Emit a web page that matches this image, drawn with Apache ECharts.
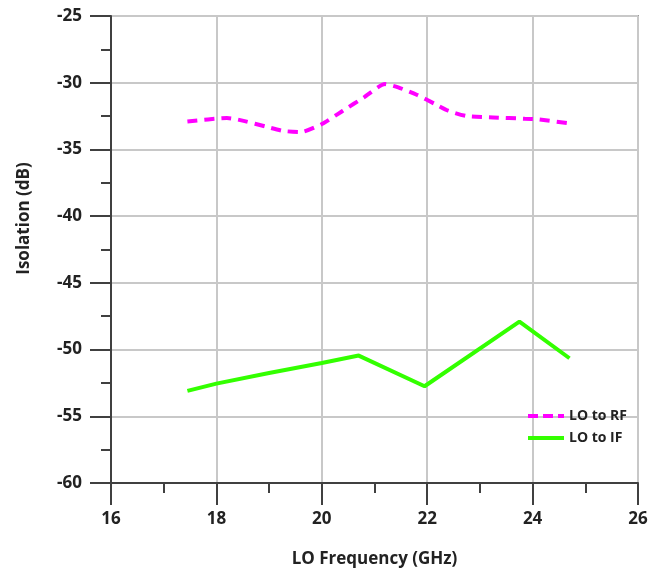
<!DOCTYPE html>
<html>
<head>
<meta charset="utf-8">
<script src="https://cdn.jsdelivr.net/npm/echarts@6/dist/echarts.min.js"></script>
<style>
  html, body {margin: 0; padding: 0; background: #fff;}
  #chart {width: 660px; height: 573px;}
</style>
</head>
<body>
<div id="chart"></div>
<script>
// LO to RF (magenta dashed)
const rfFreq = [17.45, 18.2, 19.25, 19.6, 20.0, 20.4, 20.8, 21.2, 21.45, 21.8, 22.15, 22.4, 22.75, 23.25, 23.85, 24.1, 24.7];
const rfIso = [-32.9, -32.65, -33.6, -33.7, -33.1, -32.1, -31.1, -30.1, -30.35, -30.9, -31.6, -32.1, -32.5, -32.6, -32.7, -32.75, -33.05];
// LO to IF (green)
const ifFreq = [17.45, 18.0, 19.0, 20.0, 20.7, 21.95, 23.75, 24.7];
const ifIso = [-53.1, -52.55, -51.75, -51.0, -50.45, -52.75, -47.9, -50.65];

const seriesNames = ['LO to RF', 'LO to IF'];
const fontFamily = '"Open Sans", "DejaVu Sans", sans-serif';
const axisColor = '#404040';

const pair = (xs, ys) => xs.map((x, i) => [x, ys[i]]);

// second axis only for the short (minor) ticks
const minorAxis = (min, max, interval) => ({
  type: 'value', min, max, interval,
  axisLine: {show: false},
  axisTick: {show: true, inside: false, length: 10, lineStyle: {color: axisColor, width: 2}},
  axisLabel: {show: false},
  splitLine: {show: false}
});

let myChart = echarts.init(document.getElementById('chart'));
myChart.setOption({
  animation: false,
  backgroundColor: '#fff',
  grid: {
    left: 111, right: 22, top: 16, bottom: 89,
    show: true,
    borderColor: '#505050',
    borderWidth: 1.5
  },
  legend: {
    orient: 'vertical',
    right: 28,
    top: 404,
    itemWidth: 36,
    itemHeight: 10,
    itemGap: 8,
    itemStyle: {opacity: 0},
    textStyle: {fontFamily, fontWeight: 'bold', fontSize: 14, color: '#222'},
    data: [
      {name: seriesNames[0], lineStyle: {width: 4, type: [10, 5]}},
      {name: seriesNames[1], lineStyle: {width: 4}}
    ]
  },
  xAxis: [{
    type: 'value',
    min: 16, max: 26, interval: 2,
    name: 'LO Frequency (GHz)',
    nameLocation: 'middle',
    nameGap: 68,
    nameTextStyle: {fontFamily, fontWeight: 'bold', fontSize: 17, color: '#222'},
    axisLine: {show: true, onZero: false, lineStyle: {color: axisColor, width: 2}},
    axisTick: {show: true, inside: false, length: 22, lineStyle: {color: axisColor, width: 2}},
    axisLabel: {margin: 28, fontFamily, fontWeight: 'bold', fontSize: 17, color: '#222'},
    splitLine: {show: true, lineStyle: {color: '#c8c8c8', width: 2}}
  }, Object.assign(minorAxis(16, 26, 1), {position: 'bottom'})],
  yAxis: [{
    type: 'value',
    min: -60, max: -25, interval: 5,
    name: 'Isolation (dB)',
    nameLocation: 'middle',
    nameGap: 78,
    nameTextStyle: {fontFamily, fontWeight: 'bold', fontSize: 17, color: '#222', padding: [0, 0, 0, 62]},
    axisLine: {show: true, onZero: false, lineStyle: {color: axisColor, width: 2}},
    axisTick: {show: true, inside: false, length: 21, lineStyle: {color: axisColor, width: 2}},
    axisLabel: {margin: 29, fontFamily, fontWeight: 'bold', fontSize: 17, color: '#222'},
    splitLine: {show: true, lineStyle: {color: '#c8c8c8', width: 2}}
  }, Object.assign(minorAxis(-60, -25, 2.5), {position: 'left'})],
  series: [
    {
      name: seriesNames[0],
      type: 'line',
      data: pair(rfFreq, rfIso),
      smooth: 0.2,
      showSymbol: false,
      symbol: 'none',
      color: '#ff00ff',
      lineStyle: {color: '#ff00ff', width: 4, type: [10, 7]}
    },
    {
      name: seriesNames[1],
      type: 'line',
      data: pair(ifFreq, ifIso),
      showSymbol: false,
      symbol: 'none',
      color: '#33ff00',
      lineStyle: {color: '#33ff00', width: 4}
    }
  ]
});
</script>
</body>
</html>
